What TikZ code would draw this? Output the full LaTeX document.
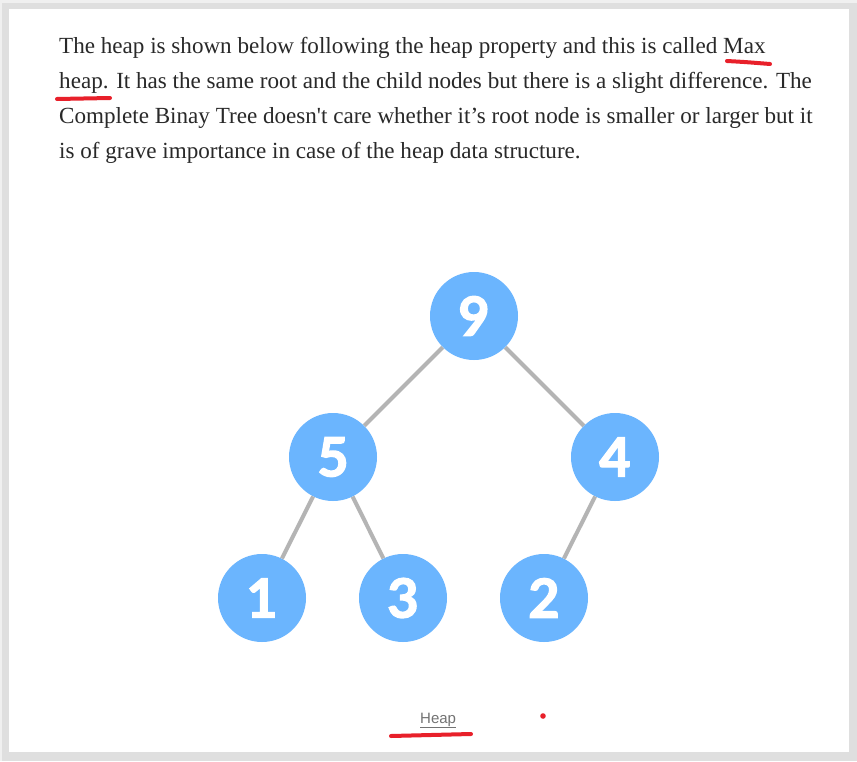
\documentclass[tikz,border=0pt]{standalone}
\usepackage{fontspec}
\setmainfont{Liberation Serif}[Ligatures=TeXOff]
\newfontfamily\digitfont{Lato}[BoldFeatures={FakeBold=2.5}]
\newfontfamily\captionfont{Liberation Sans}
\usetikzlibrary{positioning}
\definecolor{heapblue}{HTML}{6BB5FE}
\definecolor{edgegray}{HTML}{B4B4B4}
\definecolor{bodytext}{HTML}{292929}
\definecolor{markred}{HTML}{E8202A}
\tikzset{
  heapnode/.style = {circle, fill=heapblue, minimum size=88pt, inner sep=0pt,
                     text=white, font=\digitfont\bfseries\fontsize{54}{54}\selectfont},
  heapedge/.style = {draw=edgegray, line width=4pt},
  bodyline/.style = {anchor=base west, inner sep=0pt, text=bodytext,
                     font=\fontsize{23.1}{28}\selectfont},
  redmark/.style  = {draw=markred, line width=4pt, line cap=round}
}

\begin{document}
\begin{tikzpicture}[x=1pt, y=-1pt]

% page and card
\useasboundingbox (0,0) rectangle (857,761);
\fill[gray!12] (0,0) rectangle (857,761);
\fill[gray!25] (2,3) rectangle (857,761);
\fill[white] (9,9) rectangle (849,752);

% paragraph
\foreach \txt [count=\i] in {
  {The heap is shown below following the heap property and this is called Max},
  {heap. It has the same root and the child nodes but there is a slight difference. The},
  {Complete Binay Tree doesn't care whether it’s root node is smaller or larger but it},
  {is of grave importance in case of the heap data structure.}}{
    \pgfmathsetmacro\result{18 + \i * 35}
    \node[bodyline] (line\i) at (59,\result) {\txt};
    }

% heap
\node[heapnode] at (474,316) (n9) {9};
\node[heapnode] at (333,457) (n5) {5};
\node[heapnode] at (615,457) (n4) {4};
\node[heapnode] at (262,598) (n1) {1};
\node[heapnode] at (403,598) (n3) {3};
\node[heapnode] at (544,598) (n2) {2};

\draw[heapedge] (n9) -- (n5);
\draw[heapedge] (n9) -- (n4);
\draw[heapedge] (n5) -- (n1);
\draw[heapedge] (n5) -- (n3);
\draw[heapedge] (n4) -- (n2);

% caption
\node[anchor=base west, inner sep=0pt, text=gray!90!black,
      font=\captionfont\fontsize{15}{18}\selectfont] (caption) at (420,723)
      {\underline{Heap}};

% red pen marks
\draw[redmark] (727,61) .. controls (745,62) .. (770,64);
\draw[redmark] (57,99) -- (110,98);
\draw[redmark] (391,736) -- (471,734);
\fill[markred] (543,716) circle (2.8);

\end{tikzpicture}
\end{document}
